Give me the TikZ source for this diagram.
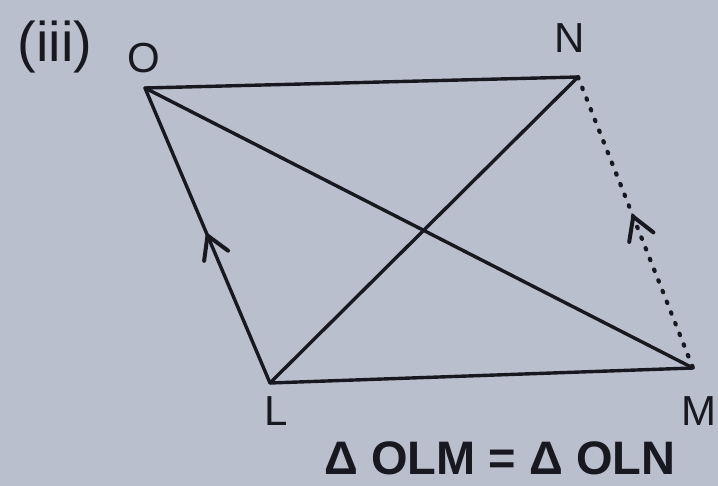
\documentclass[tikz,border=0pt]{standalone}
\usepackage{fontspec}
\setmainfont{Liberation Sans}
\usetikzlibrary{decorations.markings}
\definecolor{paper}{RGB}{186,191,206}
\definecolor{ink}{RGB}{24,24,32}
\begin{document}
\begin{tikzpicture}[x=1pt,y=-1pt,
  edge/.style={ink,line width=3.4pt,line cap=round,line join=round},
  dotline/.style={ink,line width=4.2pt,line cap=round,dash pattern=on 1.5pt off 10pt},
  chev/.style={postaction={decorate,decoration={markings,
     mark=at position #1 with {\draw[ink,solid,line width=4pt,line cap=round,line join=miter]
       (-22pt,13pt) -- (0,0) -- (-22pt,-13pt);}}}},
  lbl/.style={ink,anchor=base,font=\fontsize{42}{48}\selectfont}]
\fill[paper] (0,0) rectangle (718,486);
\useasboundingbox (0,0) rectangle (718,486);
\coordinate (O) at (145,88);
\coordinate (N) at (578,77);
\coordinate (M) at (693,368);
\coordinate (L) at (270,383);
\draw[edge] (O) -- (N);
\draw[edge] (L) -- (M);
\draw[edge] (O) -- (M);
\draw[edge] (L) -- (N);
\draw[edge,chev=0.5] (L) -- (O);
\draw[dotline] (N) -- (M);
\path[chev=0.52] (M) -- (N);
\node[lbl,font=\fontsize{56}{60}\selectfont] (iii) at (55,62) {(iii)};
\node[lbl] (lO) at (144,73) {O};
\node[lbl] (lN) at (570,53) {N};
\node[lbl] (lL) at (276,425) {L};
\node[lbl,inner sep=0pt] (lM) at (699,425) {M};
\node[lbl,inner sep=0pt,font=\fontsize{47}{50}\selectfont\bfseries] (eq) at (500,474) {Δ OLM = Δ OLN};
\end{tikzpicture}
\end{document}
